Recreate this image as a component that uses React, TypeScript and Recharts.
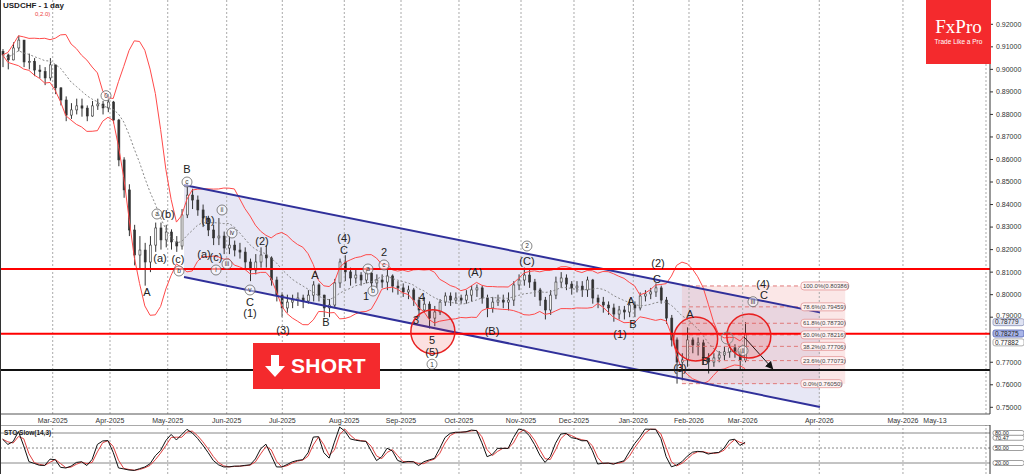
import {
  ComposedChart,
  Bar,
  Line,
  XAxis,
  YAxis,
  ReferenceLine,
  ReferenceDot,
  ReferenceArea,
} from 'recharts';

// USDCHF daily, one candle per ~2 trading days (open = previous close)
const closes = [
  0.9064, 0.9042, 0.9095, 0.913, 0.9033, 0.9035, 0.8997, 0.899, 0.8962, 0.902,
  0.8918, 0.8864, 0.8797, 0.882, 0.8838, 0.8828, 0.8793, 0.8838, 0.8846, 0.8829,
  0.8855, 0.8775, 0.8598, 0.8465, 0.8287, 0.8176, 0.8198, 0.8145, 0.822, 0.8296,
  0.8243, 0.8278, 0.8234, 0.8216, 0.8354, 0.8442, 0.842, 0.8376, 0.834, 0.8287,
  0.8252, 0.826, 0.8207, 0.822, 0.8198, 0.8189, 0.8145, 0.8109, 0.8145, 0.8176,
  0.8163, 0.8065, 0.7998, 0.7941, 0.7967, 0.7976, 0.7985, 0.7972, 0.7998, 0.8043,
  0.7998, 0.7941, 0.7954, 0.8052, 0.8145, 0.8101, 0.8074, 0.8087, 0.8065, 0.8096,
  0.8052, 0.8065, 0.8056, 0.8083, 0.8038, 0.803, 0.8012, 0.8021, 0.7976, 0.7932,
  0.7958, 0.7896, 0.7923, 0.7967, 0.7994, 0.7976, 0.7985, 0.7976, 0.7998, 0.8021,
  0.803, 0.7985, 0.7941, 0.7967, 0.7976, 0.7967, 0.7976, 0.8043, 0.8065, 0.8087,
  0.8056, 0.8021, 0.7976, 0.7932, 0.7998, 0.8056, 0.8074, 0.8047, 0.803, 0.8038,
  0.8021, 0.8065, 0.7985, 0.7967, 0.7954, 0.7941, 0.7914, 0.7932, 0.7923, 0.7954,
  0.7941, 0.7994, 0.8003, 0.8012, 0.803, 0.7976, 0.7896, 0.7799, 0.7701, 0.771,
  0.7799, 0.7777, 0.7786, 0.7719, 0.7701, 0.7719, 0.7732, 0.7746, 0.7764, 0.7746,
  0.771, 0.7828,
];
const highs = [
  0.909, 0.907, 0.912, 0.915, 0.912, 0.907, 0.905, 0.902, 0.901, 0.905,
  0.902, 0.892, 0.888, 0.885, 0.887, 0.887, 0.884, 0.886, 0.887, 0.886,
  0.889, 0.886, 0.878, 0.861, 0.849, 0.831, 0.826, 0.823, 0.826, 0.832,
  0.832, 0.831, 0.829, 0.826, 0.838, 0.849, 0.847, 0.844, 0.84, 0.835,
  0.831, 0.834, 0.828, 0.826, 0.824, 0.823, 0.821, 0.816, 0.818, 0.821,
  0.822, 0.817, 0.808, 0.801, 0.8, 0.8, 0.801, 0.8, 0.802, 0.806,
  0.805, 0.8, 0.798, 0.807, 0.816, 0.8175, 0.812, 0.811, 0.81, 0.812,
  0.81, 0.809, 0.809, 0.812, 0.809, 0.806, 0.805, 0.804, 0.803, 0.799,
  0.799, 0.797, 0.795, 0.798, 0.801, 0.801, 0.801, 0.8, 0.802, 0.804,
  0.8045, 0.804, 0.8, 0.799, 0.8, 0.8, 0.801, 0.806, 0.809, 0.812,
  0.811, 0.807, 0.803, 0.799, 0.802, 0.808, 0.81, 0.809, 0.806, 0.806,
  0.806, 0.808, 0.807, 0.8, 0.799, 0.797, 0.796, 0.795, 0.795, 0.798,
  0.797, 0.801, 0.802, 0.803, 0.805, 0.804, 0.799, 0.791, 0.781, 0.774,
  0.7855, 0.781, 0.781, 0.78, 0.774, 0.774, 0.775, 0.777, 0.778, 0.778,
  0.776, 0.7878,
];
const lows = [
  0.901, 0.9, 0.904, 0.908, 0.901, 0.9, 0.897, 0.896, 0.893, 0.895,
  0.889, 0.884, 0.877, 0.878, 0.88, 0.879, 0.877, 0.879, 0.882, 0.88,
  0.881, 0.876, 0.857, 0.843, 0.826, 0.813, 0.811, 0.804, 0.81, 0.819,
  0.82, 0.821, 0.82, 0.819, 0.82, 0.834, 0.838, 0.835, 0.83, 0.826,
  0.822, 0.822, 0.818, 0.818, 0.817, 0.816, 0.811, 0.806, 0.809, 0.812,
  0.812, 0.804, 0.797, 0.79, 0.792, 0.794, 0.795, 0.794, 0.796, 0.797,
  0.797, 0.79, 0.79, 0.794, 0.803, 0.806, 0.804, 0.805, 0.804, 0.805,
  0.802, 0.803, 0.803, 0.802, 0.801, 0.8, 0.799, 0.798, 0.795, 0.79,
  0.792, 0.785, 0.786, 0.791, 0.795, 0.795, 0.796, 0.796, 0.796, 0.797,
  0.799, 0.796, 0.79, 0.792, 0.795, 0.794, 0.793, 0.795, 0.802, 0.804,
  0.803, 0.799, 0.795, 0.789, 0.791, 0.798, 0.803, 0.802, 0.8, 0.801,
  0.799, 0.799, 0.796, 0.794, 0.792, 0.791, 0.788, 0.789, 0.789, 0.79,
  0.79, 0.793, 0.797, 0.798, 0.799, 0.796, 0.787, 0.777, 0.7605, 0.762,
  0.768, 0.774, 0.773, 0.769, 0.765, 0.768, 0.77, 0.771, 0.772, 0.772,
  0.7665, 0.77,
];
const firstOpen = 0.908;

const SLOTS = 188; // candles + empty future slots
const X_DOMAIN: [number, number] = [-0.5, SLOTS - 0.5];
const PRICE_DOMAIN: [number, number] = [0.74703, 0.93079];

// 0.78000 sits under the price badges in the original, so it is not listed
const priceTicks = [
  0.75, 0.76, 0.77, 0.79, 0.8, 0.81, 0.82, 0.83, 0.84, 0.85, 0.86, 0.87,
  0.88, 0.89, 0.9, 0.91, 0.92,
];
const monthTicks = [
  9.51, 20.39, 31.35, 42.55, 53.11, 64.88, 75.65, 86.66, 98.44, 108.5, 119.76,
  130.34, 140.53, 155.08, 170.97, 177.05,
];
const monthLabels = [
  'Mar-2025', 'Apr-2025', 'May-2025', 'Jun-2025', 'Jul-2025', 'Aug-2025',
  'Sep-2025', 'Oct-2025', 'Nov-2025', 'Dec-2025', 'Jan-2026', 'Feb-2026',
  'Mar-2026', 'Apr-2026', 'May-2026', 'May-13',
];
const gridTicks = [
  9.51, 20.39, 31.35, 42.55, 53.11, 64.88, 75.65, 86.66, 98.44, 108.5, 119.76,
  130.34, 140.53, 155.08, 170.97, 186.74,
];

// horizontal levels
const resistance = 0.8114;
const pivot = 0.7826;
const support = 0.7666;

// descending channel (index, price)
const chanTop = [
  {x: 34.44, y: 0.84867},
  {x: 155.2, y: 0.79213},
];
const chanBottom = [
  {x: 34.44, y: 0.80784},
  {x: 155.2, y: 0.75014},
];

// fibonacci retracement
const fibLevels = ['100.0%', '78.6%', '61.8%', '50.0%', '38.2%', '23.6%', '0.0%'];
const fibPrices = [0.80386, 0.79459, 0.7873, 0.78216, 0.77706, 0.77073, 0.7605];
const fibStart = 129.0;
const fibEnd = 151.6;
const fibBoxEnd = 160.0;

// elliott wave labels
const waveText = [
  '0', 'a', '(b)', '(a)', '(c)', 'b', 'B', 'c', '(b)', 'ii', 'iv', '(a)', '(c)',
  'i', 'iii', 'A', 'v', 'C', '(1)', '(2)', '(3)', 'A', 'B', '(4)', 'C', 'a',
  '1', 'b', '2', 'c', '4', '3', '5', '(5)', '1', '(A)', '(B)', '2', '(C)',
  '(1)', 'A', 'B', '(2)', 'C', '(3)', 'A', 'B', 'ii', 'iii', '(4)', 'C',
];
const waveX = [
  19.63, 29.31, 31.4, 29.88, 33.3, 33.49, 35.01, 35.01, 39.0, 41.66, 43.56,
  38.24, 40.52, 40.52, 42.61, 27.41, 46.97, 46.97, 46.97, 49.25, 53.24, 59.32,
  61.41, 64.83, 64.83, 69.38, 69.0, 70.33, 72.42, 72.42, 79.64, 78.5, 81.54,
  81.54, 81.54, 89.7, 92.93, 99.57, 99.57, 117.24, 119.33, 119.7, 124.45,
  124.26, 128.63, 130.53, 133.38, 140.6, 142.49, 144.4, 144.58,
];
const waveP = [
  0.88831, 0.8358, 0.8358, 0.81627, 0.81583, 0.8105, 0.85577, 0.85, 0.83314,
  0.83758, 0.82737, 0.81805, 0.81672, 0.81095, 0.81361, 0.80118, 0.80207,
  0.79675, 0.79186, 0.82382, 0.78431, 0.80873, 0.78787, 0.82515, 0.81983,
  0.81139, 0.79941, 0.80163, 0.81894, 0.81317, 0.79897, 0.78875, 0.77987,
  0.77454, 0.76912, 0.81006, 0.78387, 0.8216, 0.81494, 0.78254, 0.7972,
  0.78699, 0.81406, 0.80696, 0.76758, 0.7916, 0.77046, 0.77513, 0.79687,
  0.80487, 0.79999,
];
const waveCircled = [
  true, true, false, false, false, true, false, true, false, true, true, false,
  false, true, true, false, true, false, false, false, false, false, false,
  false, false, true, false, true, false, true, false, false, false, false,
  true, false, false, true, false, false, false, false, false, false, false,
  false, false, true, true, false, false,
];

// highlight circles
const zoneX = [81.7, 131.6, 141.7];
const zoneP = [0.78356, 0.78032, 0.78165];

// stochastic levels / current readings
const stoLevels = [80, 50, 20];
const stoNow = 70.47;
const priceBadges = [0.78779, 0.78275, 0.77882];

const BB_PERIOD = 10;
const STO_K = 7;
const STO_SLOW = 2;

const n = closes.length;
const opens = closes.map((c, i) => (i === 0 ? firstOpen : closes[i - 1]));

const rows: any[] = Array.from({length: SLOTS}, (_, i) => ({i}));
for (let i = 0; i < n; i++) {
  const o = opens[i];
  const c = closes[i];
  const h = Math.max(highs[i], o, c);
  const l = Math.min(lows[i], o, c);
  const win = closes.slice(Math.max(0, i - BB_PERIOD + 1), i + 1);
  const mean = win.reduce((a, b) => a + b, 0) / win.length;
  const sd = Math.sqrt(win.reduce((a, b) => a + (b - mean) ** 2, 0) / win.length);
  Object.assign(rows[i], {
    o, h, l, c,
    range: [l, h],
    bbU: mean + 2 * sd,
    bbM: mean,
    bbL: mean - 2 * sd,
  });
}
const rawK: number[] = [];
for (let i = 0; i < n; i++) {
  const from = Math.max(0, i - STO_K + 1);
  const hh = Math.max(...highs.slice(from, i + 1));
  const ll = Math.min(...lows.slice(from, i + 1));
  rawK.push(((closes[i] - ll) / (hh - ll)) * 100);
}
const avg = (arr: number[], i: number, p: number) => {
  const w = arr.slice(Math.max(0, i - p + 1), i + 1);
  return w.reduce((a, b) => a + b, 0) / w.length;
};
const slowK = rawK.map((_, i) => avg(rawK, i, STO_SLOW));
const slowD = slowK.map((_, i) => avg(slowK, i, STO_SLOW));
const stoRows: any[] = Array.from({length: SLOTS}, (_, i) =>
  i < n ? {i, k: slowK[i], d: slowD[i]} : {i},
);

const FONT = 'Liberation Sans, Arial, sans-serif';

const Candle = (props: any) => {
  const {x, y, width, height, payload} = props;
  if (!payload || payload.c == null) return null;
  const top = Math.min(y, y + height);
  const hgt = Math.abs(height);
  const {o, h, l, c} = payload;
  const k = hgt / (h - l || 1e-9);
  const cx = x + width / 2;
  const yo = top + (h - o) * k;
  const yc = top + (h - c) * k;
  const bt = Math.min(yo, yc);
  const bh = Math.max(1, Math.abs(yc - yo));
  const up = c >= o;
  return (
    <g>
      <line x1={cx} x2={cx} y1={top} y2={top + hgt} stroke="#333" strokeWidth={1} />
      <rect
        x={x}
        y={bt}
        width={width}
        height={bh}
        fill={up ? '#f4f4f4' : '#333'}
        stroke="#333"
        strokeWidth={0.6}
      />
    </g>
  );
};

const MonthTick = (p: any) => {
  const k = monthTicks.indexOf(p.payload.value);
  return (
    <text x={p.x} y={423} textAnchor="middle" fontSize={7} fill="#333" fontFamily={FONT}>
      {monthLabels[k]}
    </text>
  );
};

const PriceTick = (p: any) => {
  const v = p.payload.value;
  // lift a label slightly when a price badge sits just under it
  const crowded = priceBadges.some((b) => v > b && v - b < 0.003);
  return (
    <text x={996} y={p.y + (crowded ? 0.4 : 2.4)} fontSize={7} fill="#333" fontFamily={FONT}>
      {v.toFixed(5)}
    </text>
  );
};

const WaveMark = ({cx, cy, text, circled}: any) =>
  circled ? (
    <g>
      <circle cx={cx} cy={cy} r={5} fill="#fff" fillOpacity={0.5} stroke="#666" strokeWidth={0.8} />
      <text x={cx} y={cy + 2.3} textAnchor="middle" fontSize={6.5} fill="#333" fontFamily={FONT}>
        {text}
      </text>
    </g>
  ) : (
    <text x={cx} y={cy + 4} textAnchor="middle" fontSize={11} fill="#222" fontFamily={FONT}>
      {text}
    </text>
  );

const ChannelShape = (p: any) => {
  const {x, y, width, height} = p;
  const pTop = chanTop[0].y;
  const pBot = chanBottom[1].y;
  const py = (v: number) => y + ((pTop - v) / (pTop - pBot)) * height;
  const pts = [
    [x, py(chanTop[0].y)],
    [x + width, py(chanTop[1].y)],
    [x + width, py(chanBottom[1].y)],
    [x, py(chanBottom[0].y)],
  ]
    .map((q) => q.join(','))
    .join(' ');
  return <polygon points={pts} fill="rgba(170,170,220,0.28)" />;
};

const Badge = ({cx, cy, text, fill, stroke, h = 7, fs = 6.5}: any) => (
  <g>
    <rect x={cx + 3} y={cy - h / 2} width={31} height={h} rx={2} fill={fill} stroke={stroke} strokeWidth={0.8} />
    <text x={cx + 5} y={cy + fs * 0.35} fontSize={fs} fill="#222" fontFamily={FONT}>
      {text}
    </text>
  </g>
);

const badgeFill = ['#dfe3f3', '#a9b5e8', '#ffffff'];
const badgeStroke = ['#8a93b8', '#4e5fb0', '#999'];

export default function App() {
  return (
    <div
      style={{
        position: 'absolute',
        left: 0,
        top: 0,
        width: 1024,
        height: 474,
        background: '#fff',
        overflow: 'hidden',
        fontFamily: FONT,
      }}
    >
      <ComposedChart
        width={1024}
        height={425}
        data={rows}
        margin={{top: 0, right: 0, left: 0, bottom: 0}}
      >
        <defs>
          <marker id="ah" markerWidth="8" markerHeight="8" refX="6" refY="4" orient="auto" markerUnits="userSpaceOnUse">
            <path d="M0,0 L8,4 L0,8 z" fill="#111" />
          </marker>
        </defs>
        <XAxis xAxisId="c" dataKey="i" type="category" hide />
        <XAxis
          dataKey="i"
          type="number"
          domain={X_DOMAIN}
          ticks={monthTicks}
          tick={<MonthTick />}
          tickLine={false}
          axisLine={{stroke: '#555'}}
          height={11}
          interval={0}
          allowDataOverflow
        />
        <YAxis
          orientation="right"
          domain={PRICE_DOMAIN}
          ticks={priceTicks}
          tick={<PriceTick />}
          interval={0}
          tickSize={3}
          tickLine={{stroke: '#333'}}
          axisLine={{stroke: '#333'}}
          width={34}
          allowDataOverflow
        />
        {gridTicks.map((t) => (
          <ReferenceLine key={'g' + t} x={t} stroke="#aaa" strokeDasharray="2 2" />
        ))}
        <ReferenceArea
          x1={chanTop[0].x}
          x2={chanTop[1].x}
          y1={chanBottom[1].y}
          y2={chanTop[0].y}
          shape={<ChannelShape />}
          ifOverflow="visible"
        />
        <ReferenceArea
          x1={fibStart}
          x2={fibBoxEnd}
          y1={fibPrices[6]}
          y2={fibPrices[0]}
          fill="#f0a0a0"
          fillOpacity={0.25}
          stroke="none"
        />
        {fibPrices.map((p, k) => (
          <ReferenceLine
            key={'f' + k}
            segment={[{x: fibStart, y: p}, {x: fibEnd, y: p}]}
            stroke="#e07a7a"
            strokeDasharray="4 3"
          />
        ))}
        <Line dataKey="bbU" stroke="#ff4a4a" strokeWidth={1} dot={false} isAnimationActive={false} />
        <Line dataKey="bbL" stroke="#ff4a4a" strokeWidth={1} dot={false} isAnimationActive={false} />
        <Line
          dataKey="bbM"
          stroke="#888"
          strokeWidth={1}
          strokeDasharray="2 2"
          dot={false}
          isAnimationActive={false}
        />
        <Bar xAxisId="c" dataKey="range" barSize={2} shape={<Candle />} isAnimationActive={false} />
        <ReferenceLine segment={chanTop} stroke="#30309a" strokeWidth={2} />
        <ReferenceLine segment={chanBottom} stroke="#30309a" strokeWidth={2} />
        <ReferenceLine y={resistance} stroke="#ff0000" strokeWidth={2} />
        <ReferenceLine y={pivot} stroke="#ff0000" strokeWidth={2} />
        <ReferenceLine y={support} stroke="#111" strokeWidth={2} />
        {zoneX.map((x, k) => (
          <ReferenceDot
            key={'z' + k}
            x={x}
            y={zoneP[k]}
            r={22}
            fill="#e82020"
            fillOpacity={0.14}
            stroke="#e82020"
            strokeWidth={1.5}
            ifOverflow="visible"
          />
        ))}
        <ReferenceDot x={137.6} y={0.78076} r={6} fill="none" stroke="#888" strokeWidth={1} />
        <ReferenceLine
          segment={[{x: 140.8, y: 0.78121}, {x: 146.1, y: 0.76745}]}
          stroke="#111"
          strokeWidth={1}
          markerEnd="url(#ah)"
        />
        {waveText.map((t, k) => (
          <ReferenceDot
            key={'w' + k}
            x={waveX[k]}
            y={waveP[k]}
            r={1}
            ifOverflow="visible"
            shape={(p: any) => <WaveMark cx={p.cx} cy={p.cy} text={t} circled={waveCircled[k]} />}
          />
        ))}
        {fibPrices.map((p, k) => (
          <ReferenceDot
            key={'fl' + k}
            x={fibEnd}
            y={p}
            r={1}
            ifOverflow="visible"
            shape={(q: any) => (
              <g>
                <rect
                  x={q.cx}
                  y={q.cy - 4}
                  width={fibLevels[k].length * 3.3 + 28}
                  height={8}
                  rx={3}
                  fill="#fff3f3"
                  stroke="#e08a8a"
                  strokeWidth={0.7}
                />
                <text x={q.cx + 2} y={q.cy + 2.2} fontSize={6} fill="#444" fontFamily={FONT}>
                  {`${fibLevels[k]}(${p.toFixed(5)})`}
                </text>
              </g>
            )}
          />
        ))}
        {priceBadges.map((p, k) => (
          <ReferenceDot
            key={'pb' + k}
            x={SLOTS - 0.5}
            y={p}
            r={1}
            ifOverflow="visible"
            shape={(q: any) => (
              <Badge cx={q.cx} cy={q.cy} text={p.toFixed(5)} fill={badgeFill[k]} stroke={badgeStroke[k]} />
            )}
          />
        ))}
      </ComposedChart>

      <div style={{position: 'absolute', left: 0, top: 425}}>
        <ComposedChart
          width={1024}
          height={49}
          data={stoRows}
          margin={{top: 0, right: 0, left: 0, bottom: 0}}
        >
          <XAxis dataKey="i" type="number" domain={X_DOMAIN} hide allowDataOverflow />
          <YAxis
            orientation="right"
            domain={[-2, 96]}
            ticks={[]}
            tick={false}
            axisLine={{stroke: '#333'}}
            width={34}
            allowDataOverflow
          />
          {gridTicks.map((t) => (
            <ReferenceLine key={'sg' + t} x={t} stroke="#aaa" strokeDasharray="2 2" />
          ))}
          <ReferenceLine y={96} stroke="#555" />
          <ReferenceLine y={80} stroke="#888" />
          <ReferenceLine y={50} stroke="#888" strokeDasharray="2 2" />
          <ReferenceLine y={20} stroke="#888" />
          <Line dataKey="d" stroke="#e04040" strokeWidth={1} dot={false} isAnimationActive={false} />
          <Line dataKey="k" stroke="#111" strokeWidth={1} dot={false} isAnimationActive={false} />
          {[...stoLevels, stoNow].map((v, k) => (
            <ReferenceDot
              key={'sb' + k}
              x={SLOTS - 0.5}
              y={v}
              r={1}
              ifOverflow="visible"
              shape={(q: any) => (
                <Badge cx={q.cx} cy={q.cy} text={v.toFixed(2)} fill="#fff" stroke="#888" h={5} fs={5.5} />
              )}
            />
          ))}
        </ComposedChart>
        <div
          style={{
            position: 'absolute',
            left: 4,
            top: 4,
            fontSize: 6.5,
            fontWeight: 'bold',
            color: '#222',
          }}
        >
          STO Slow(14,3)
        </div>
      </div>

      <div style={{position: 'absolute', left: 0, top: 0, width: 1, height: 474, background: '#333'}} />
      <div style={{position: 'absolute', left: 3, top: 1, fontSize: 8, fontWeight: 'bold', color: '#222'}}>
        USDCHF - 1 day
      </div>
      <div style={{position: 'absolute', left: 35, top: 11, fontSize: 6, color: '#e44'}}>0,2.0)</div>

      <div
        style={{
          position: 'absolute',
          left: 253,
          top: 343,
          width: 127,
          height: 46,
          background: '#f42a2d',
          display: 'flex',
          alignItems: 'center',
          color: '#fff',
        }}
      >
        <svg width={20} height={22} style={{marginLeft: 12, marginRight: 6}}>
          <path d="M6,0 H14 V11 H20 L10,22 L0,11 H6 Z" fill="#fff" />
        </svg>
        <span style={{fontSize: 21, fontWeight: 'bold', letterSpacing: 0.3}}>SHORT</span>
      </div>

      <div
        style={{
          position: 'absolute',
          left: 926,
          top: 0,
          width: 65,
          height: 64,
          background: '#f42a2d',
          color: '#fff',
          textAlign: 'center',
        }}
      >
        <div
          style={{
            fontFamily: 'Liberation Serif, DejaVu Serif, serif',
            fontSize: 19,
            marginTop: 17,
            lineHeight: '19px',
          }}
        >
          FxPro
        </div>
        <div style={{fontSize: 6.5, marginTop: 2}}>Trade Like a Pro</div>
      </div>
    </div>
  );
}
